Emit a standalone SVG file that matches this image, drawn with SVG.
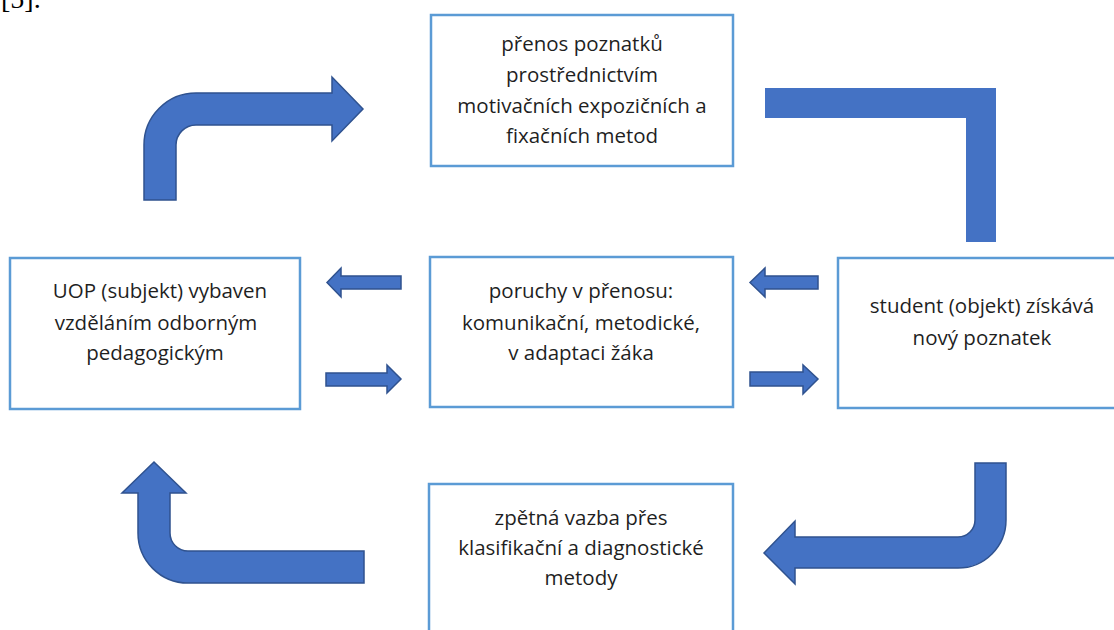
<svg xmlns="http://www.w3.org/2000/svg" width="1114" height="630" viewBox="0 0 1114 630">
<style>
.box{fill:#fff;stroke:#5B9BD5;stroke-width:2.5}
.t{font-family:"Open Sans","Noto Sans",sans-serif;font-size:20.5px;fill:#1f1f1f;text-anchor:middle}
.ar{fill:#4472C4;stroke:#2F528F;stroke-width:1.5;stroke-linejoin:miter}
.bar{fill:#4472C4}
</style>
<rect width="1114" height="630" fill="#fff"/>
<text x="1" y="8" font-family="Liberation Serif,serif" font-size="28" fill="#000">[5].</text>
<g id="node-top">
<rect class="box" x="431" y="15" width="302" height="151"/>
<text class="t" x="582" y="51">přenos poznatků</text>
<text class="t" x="582" y="82">prostřednictvím</text>
<text class="t" x="582" y="113">motivačních expozičních a</text>
<text class="t" x="582" y="143">fixačních metod</text>
</g>
<g id="node-left">
<rect class="box" x="10" y="258" width="290" height="151"/>
<text class="t" x="160" y="298">UOP (subjekt) vybaven</text>
<text class="t" x="156" y="330">vzděláním odborným</text>
<text class="t" x="155" y="360">pedagogickým</text>
</g>
<g id="node-middle">
<rect class="box" x="430" y="257" width="303" height="150"/>
<text class="t" x="581" y="298">poruchy v přenosu:</text>
<text class="t" x="581" y="330">komunikační, metodické,</text>
<text class="t" x="581" y="360">v adaptaci žáka</text>
</g>
<g id="node-right">
<rect class="box" x="838" y="258" width="290" height="150"/>
<text class="t" x="982" y="313">student (objekt) získává</text>
<text class="t" x="982" y="345">nový poznatek</text>
</g>
<g id="node-bottom">
<rect class="box" x="429" y="484" width="304" height="160"/>
<text class="t" x="581" y="525">zpětná vazba přes</text>
<text class="t" x="581" y="555">klasifikační a diagnostické</text>
<text class="t" x="581" y="585">metody</text>
</g>
<g id="connectors">
<path class="ar" d="M144,200 L144,145 A52,52 0 0 1 196,93 L332,93 L332,77 L363,109 L332,141 L332,125 L196,125 A20,20 0 0 0 176,145 L176,200 Z"/>
<path class="bar" d="M765,88 L996,88 L996,242 L966,242 L966,118 L765,118 Z"/>
<path class="ar" d="M975,463 L1006,463 L1006,520 A48,48 0 0 1 958,568 L795,568 L795,584 L764,553 L795,521 L795,537 L958,537 A17,17 0 0 0 975,520 Z"/>
<path class="ar" d="M364,551 L364,583 L188,583 A50,50 0 0 1 138,533 L138,493 L122,493 L154,462 L186,493 L170,493 L170,533 A18,18 0 0 0 188,551 Z"/>
<path class="ar" d="M401,276 L401,289 L341,289 L341,297 L327,282.5 L341,268 L341,276 Z"/>
<path class="ar" d="M326,373 L387,373 L387,365 L401,379 L387,393 L387,386 L326,386 Z"/>
<path class="ar" d="M818,276 L818,289 L765,289 L765,297 L750,282.5 L765,268 L765,276 Z"/>
<path class="ar" d="M750,372 L803,372 L803,365 L818,379 L803,394 L803,386 L750,386 Z"/>
</g>
</svg>
